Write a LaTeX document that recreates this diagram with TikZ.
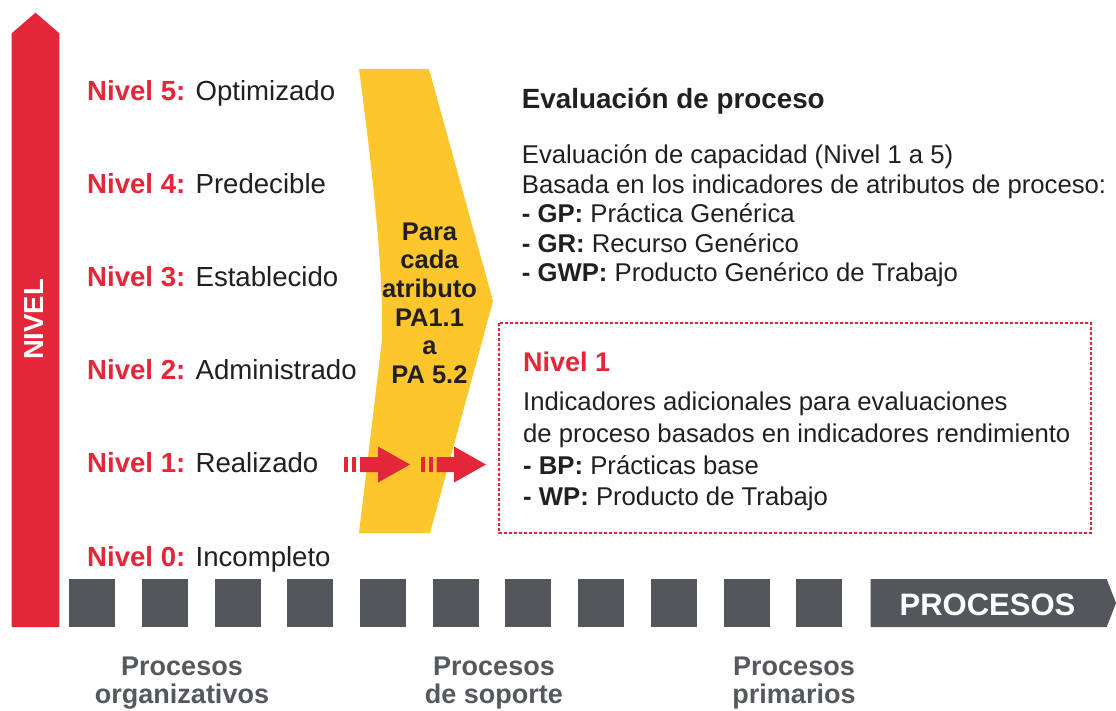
\documentclass[tikz,border=0pt]{standalone}
\usepackage{fontspec}
\setmainfont{Liberation Sans}
\definecolor{nred}{RGB}{227,39,56}
\definecolor{ngray}{RGB}{83,87,92}
\definecolor{nyel}{RGB}{253,198,45}
\definecolor{ntxt}{RGB}{35,31,32}
\definecolor{nlab}{RGB}{85,88,93}
\begin{document}
\begin{tikzpicture}[x=1pt,y=-1pt,
  lvl/.style={anchor=base west, inner sep=0, font=\fontsize{27.6}{30}\selectfont, text=ntxt},
  body/.style={anchor=base west, inner sep=0, font=\fontsize{25.7}{30}\selectfont, text=ntxt},
  ylw/.style={anchor=base, inner sep=0, font=\bfseries\fontsize{25.5}{28}\selectfont, text=ntxt},
  bot/.style={anchor=base, inner sep=0, font=\bfseries\fontsize{27}{30}\selectfont, text=nlab},
  sqbox/.style={fill=ngray, draw=none, minimum width=46pt, minimum height=48pt, inner sep=0, anchor=north west},
  arrowfill/.style={fill=nred, draw=none}
]
\useasboundingbox (0,0) rectangle (1116,710);
\fill[white] (0,0) rectangle (1116,710);

% vertical red arrow
\fill[nred] (11.7,627) -- (11.7,33.3) -- (35.5,12.7) -- (59.3,33.3) -- (59.3,627) -- cycle;
\node[rotate=90, anchor=base, inner sep=0, text=white, font=\bfseries\fontsize{27.5}{30}\selectfont] (nivel) at (43.3,319.5) {NIVEL};

% level labels
\node[lvl] (n5) at (87,100)   {\textcolor{nred}{\bfseries Nivel 5:} Optimizado};
\node[lvl] (n4) at (87,193.2) {\textcolor{nred}{\bfseries Nivel 4:} Predecible};
\node[lvl] (n3) at (87,286.4) {\textcolor{nred}{\bfseries Nivel 3:} Establecido};
\node[lvl] (n2) at (87,379.6) {\textcolor{nred}{\bfseries Nivel 2:} Administrado};
\node[lvl] (n1) at (87,472.8) {\textcolor{nred}{\bfseries Nivel 1:} Realizado};
\node[lvl] (n0) at (87,566)   {\textcolor{nred}{\bfseries Nivel 0:} Incompleto};

% yellow chevron
\fill[nyel] (359,69) -- (429,69) -- (493,301) -- (430,533) -- (359,533)
  -- (382,340) .. controls (384,270) and (371,160) .. (359,69) -- cycle;
\node[ylw] (y1) at (429.5,240.7) {Para};
\node[ylw] (y2) at (429.5,268.5) {cada};
\node[ylw] (y3) at (429.5,297) {atributo};
\node[ylw] (y4) at (429.5,326) {PA1.1};
\node[ylw] (y5) at (429.5,354.5) {a};
\node[ylw] (y6) at (429.5,383) {PA 5.2};

% red arrows
\fill[arrowfill] (344,457) rectangle (348,472);
\fill[arrowfill] (352,457) rectangle (356,472);
\fill[arrowfill] (360,457) -- (378,457) -- (378,446.5) -- (410,464.5) -- (378,482.5) -- (378,472) -- (360,472) -- cycle;
\fill[arrowfill] (420.5,457) rectangle (424.5,472);
\fill[arrowfill] (428.5,457) rectangle (432.5,472);
\fill[arrowfill] (436.5,457) -- (454,457) -- (454,446.5) -- (486,464.5) -- (454,482.5) -- (454,472) -- (436.5,472) -- cycle;

% right block
\node[body, font=\bfseries\fontsize{27.8}{30}\selectfont] (t0) at (521.7,108) {Evaluación de proceso};
\node[body] (t1) at (521.7,163) {Evaluación de capacidad (Nivel 1 a 5)};
\node[body] (t2) at (521.7,193) {Basada en los indicadores de atributos de proceso:};
\node[body] (t3) at (521.7,222.5) {\textbf{- GP:} Práctica Genérica};
\node[body] (t4) at (521.7,252) {\textbf{- GR:} Recurso Genérico};
\node[body] (t5) at (521.7,281.5) {\textbf{- GWP:} Producto Genérico de Trabajo};

% dashed box
\draw[nred, line width=1.3pt, dash pattern=on 3pt off 2pt] (499,323) rectangle (1091,533);
\node[body, text=nred, font=\bfseries\fontsize{27}{30}\selectfont] (b0) at (523,371) {Nivel 1};
\node[body] (b1) at (523,410.7) {Indicadores adicionales para evaluaciones};
\node[body] (b2) at (523,442) {de proceso basados en indicadores rendimiento};
\node[body] (b3) at (523,474) {\textbf{- BP:} Prácticas base};
\node[body] (b4) at (523,505) {\textbf{- WP:} Producto de Trabajo};

% process squares
\foreach \i in {0,...,10} {
  \node[sqbox] (sq\i) at ({69+72.7*\i},579) {};
}
\fill[ngray] (870.7,579) -- (1106.7,579) -- (1116,603) -- (1106.7,627) -- (870.7,627) -- cycle;
\node[anchor=base, inner sep=0, text=white, font=\bfseries\fontsize{31}{34}\selectfont] (proc) at (987.5,615) {PROCESOS};

% bottom labels
\node[bot] (po1) at (182,675) {Procesos};
\node[bot] (po2) at (182,703) {organizativos};
\node[bot] (ps1) at (494,675) {Procesos};
\node[bot] (ps2) at (494,703) {de soporte};
\node[bot] (pp1) at (794,675) {Procesos};
\node[bot] (pp2) at (794,703) {primarios};
\end{tikzpicture}
\end{document}
